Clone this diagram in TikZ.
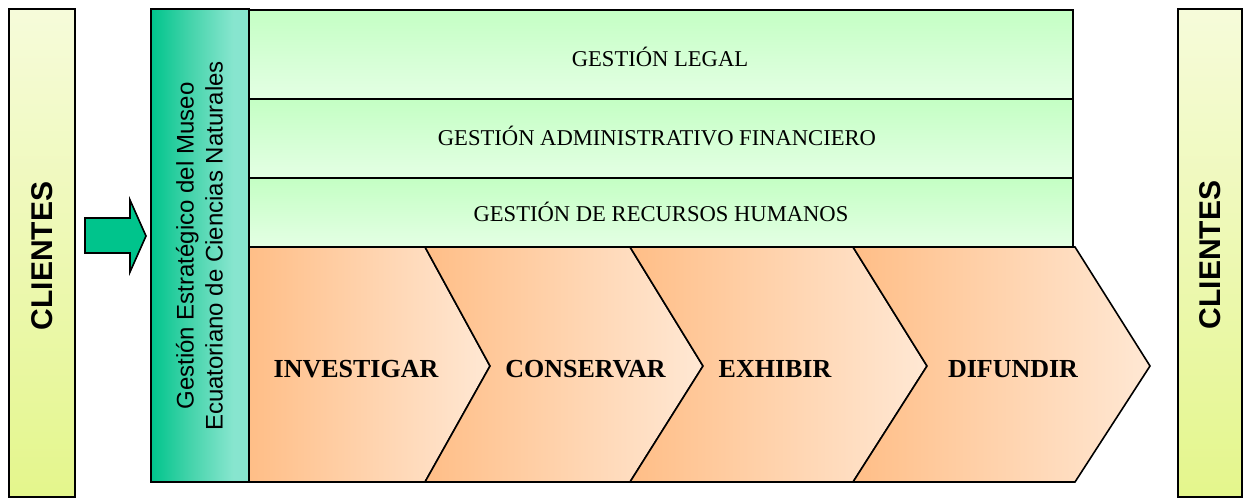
\documentclass[tikz,border=0pt]{standalone}
\usepackage{fontspec}
\setmainfont{Liberation Serif}
\setsansfont{Liberation Sans}
\definecolor{cliTop}{RGB}{246,251,218}
\definecolor{cliBot}{RGB}{228,246,140}
\definecolor{grnTop}{RGB}{196,255,196}
\definecolor{grnBot}{RGB}{228,255,228}
\definecolor{orgL}{RGB}{255,190,135}
\definecolor{orgR}{RGB}{255,232,212}
\definecolor{arrowFill}{RGB}{0,196,140}
\pgfdeclarehorizontalshading{tealshade}{100bp}{%
  rgb(0bp)=(0,0.77,0.55); rgb(25bp)=(0,0.77,0.55); rgb(45bp)=(0.27,0.83,0.67);
  rgb(67bp)=(0.53,0.9,0.81); rgb(100bp)=(0.53,0.9,0.81)}
\tikzset{
  frame/.style={draw=black,line width=1.6pt,line join=miter},
  clibar/.style={frame,top color=cliTop,bottom color=cliBot},
  greenrow/.style={frame,top color=grnTop,bottom color=grnBot},
  chevron/.style={frame,left color=orgL,right color=orgR},
  rowtext/.style={font=\fontsize{22.6}{26}\selectfont,anchor=base,inner sep=0pt},
  chevtext/.style={font=\fontsize{26}{30}\selectfont\bfseries,anchor=base,inner sep=0pt},
  clitext/.style={font=\sffamily\bfseries\fontsize{30}{34}\selectfont,rotate=90,inner sep=0pt},
}
\begin{document}
\begin{tikzpicture}[x=1pt,y=-1pt]
\useasboundingbox (0,0) rectangle (1245,498);
% client bars
\draw[clibar] (9,9) rectangle (75,497);
\node[clitext] (cliL) at (42.5,256) {CLIENTES};
\draw[clibar] (1178,9) rectangle (1242,497);
\node[clitext] (cliR) at (1210,255) {CLIENTES};
% arrow
\draw[frame,fill=arrowFill] (85,218) -- (130,218) -- (130,200) -- (146,236) -- (130,272) -- (130,253) -- (85,253) -- cycle;
% teal bar
\draw[frame,shading=tealshade] (151,9) rectangle (249,482);
\node[rotate=90,align=center,inner sep=0pt,font=\sffamily\fontsize{24}{29}\selectfont] (teal) at (199.5,246) {Gestión Estratégico del Museo\\Ecuatoriano de Ciencias Naturales};
% green rows
\draw[greenrow] (249,10) rectangle (1073,99);
\draw[greenrow] (249,99) rectangle (1073,178);
\draw[greenrow] (249,178) rectangle (1073,247);
\node[rowtext] (legal) at (660,66) {GESTIÓN LEGAL};
\node[rowtext] (admin) at (657,145) {GESTIÓN ADMINISTRATIVO FINANCIERO};
\node[rowtext] (rrhh) at (661,221.5) {GESTIÓN DE RECURSOS HUMANOS};
% chevrons
\draw[chevron] (249,247) -- (425,247) -- (490,366) -- (425,482) -- (249,482) -- cycle;
\draw[chevron] (425,247) -- (630,247) -- (703,366) -- (630,482) -- (425,482) -- (490,366) -- cycle;
\draw[chevron] (630,247) -- (853,247) -- (927,366) -- (853,482) -- (630,482) -- (703,366) -- cycle;
\draw[chevron] (853,247) -- (1075,247) -- (1150,366) -- (1075,482) -- (853,482) -- (927,366) -- cycle;
\node[chevtext] (inv) at (356,377) {INVESTIGAR};
\node[chevtext] (con) at (585.5,377) {CONSERVAR};
\node[chevtext] (exh) at (775,377) {EXHIBIR};
\node[chevtext] (dif) at (1013,377) {DIFUNDIR};
\end{tikzpicture}
\end{document}
